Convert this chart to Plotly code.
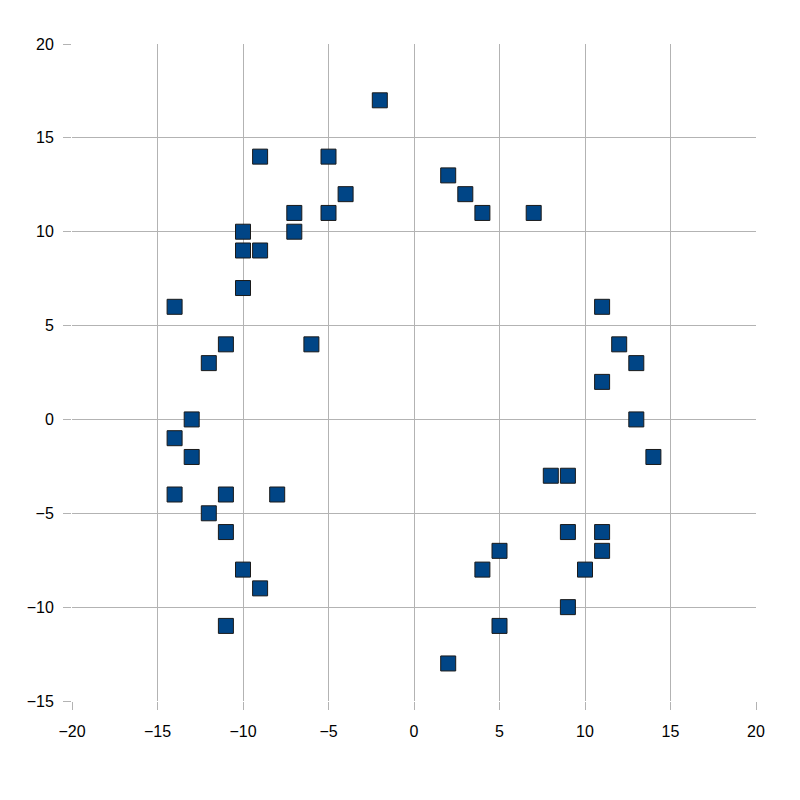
import plotly.graph_objects as go

x_vals = [-2, -9, -5, -4, -7, -5, -7, -10, -10, -9, -10, -14, -11, -6, -12, -13, -14, -13, -14, -11, -8, -12, -11, -10, -9, -11,
          2, 3, 4, 7, 11, 12, 13, 11, 13, 14, 8, 9, 9, 11, 11, 5, 4, 10, 9, 5, 2]
y_vals = [17, 14, 14, 12, 11, 11, 10, 10, 9, 9, 7, 6, 4, 4, 3, 0, -1, -2, -4, -4, -4, -5, -6, -8, -9, -11,
          13, 12, 11, 11, 6, 4, 3, 2, 0, -2, -3, -3, -6, -6, -7, -7, -8, -8, -10, -11, -13]

fig = go.Figure(go.Scatter(
    x=x_vals, y=y_vals, mode="markers",
    marker=dict(symbol="square", size=15, color="#004586", line=dict(color="#1a1a1a", width=1)),
))

axis_common = dict(
    showgrid=True, gridcolor="#b3b3b3", gridwidth=1,
    zeroline=False, showline=False,
    ticks="outside", ticklen=8, tickcolor="#b3b3b3",
    tickfont=dict(family="Liberation Sans", size=16, color="#000000"),
    dtick=5,
)
fig.update_xaxes(range=[-20, 20], tick0=-20, ticklabelstandoff=8, **axis_common)
fig.update_yaxes(range=[-15, 20], tick0=-15, ticklabelstandoff=6, **axis_common)
fig.update_layout(
    width=800, height=800,
    margin=dict(l=64, r=52, t=36, b=107),
    plot_bgcolor="white", paper_bgcolor="white",
    showlegend=False,
)
fig.write_html("out.html")
